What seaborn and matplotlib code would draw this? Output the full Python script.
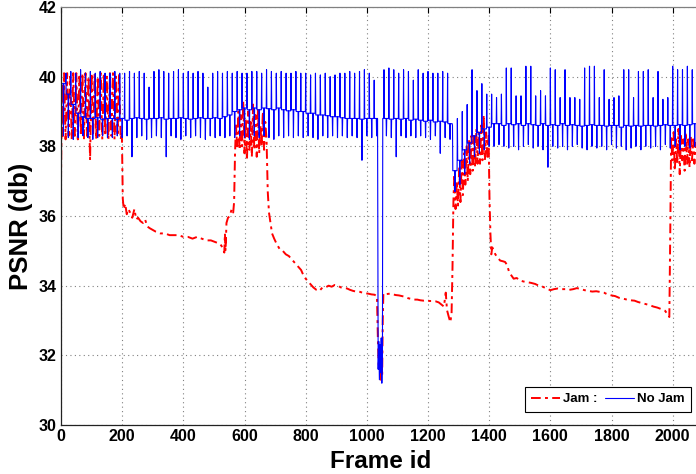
import numpy as np
import pandas as pd
import matplotlib
matplotlib.use("Agg")
import matplotlib.pyplot as plt
import seaborn as sns

# ---------------- data ----------------
# Jam (red) series: frame ids and PSNR values, segment by segment
red_frames_a = [0, 3, 6, 10, 15, 20, 25, 30, 35, 40, 45, 50, 55, 60, 65, 70, 75, 80, 85, 90, 95,
                100, 105, 110, 115, 120, 125, 130, 135, 140, 145, 150, 155, 160, 165, 170, 175,
                180, 185, 190, 195, 199]
red_psnr_a = [37.0, 39.8, 38.3, 40.1, 38.2, 40.1, 38.3, 40.0, 38.2, 40.1, 38.3, 40.1, 38.2,
              40.0, 38.3, 40.1, 38.2, 40.1, 38.3, 40.0, 37.6, 40.1, 38.3, 40.1, 38.2, 40.0, 38.3,
              40.1, 38.2, 40.1, 38.3, 40.0, 38.2, 40.1, 38.3, 40.1, 38.2, 40.0, 38.3, 40.1, 38.2,
              38.4]
red_frames_b = [202, 205, 210, 215, 220, 226, 233, 240, 246, 252, 260, 268, 275, 282, 290, 300,
                310, 325, 340, 355, 370, 385, 400, 415, 430, 445, 460, 475, 490, 505, 520, 528,
                534, 536, 538, 541, 546, 552, 558, 563, 566, 569, 572]
red_psnr_b = [36.5, 36.2, 36.35, 36.05, 36.2, 36.1, 35.95, 36.2, 35.9, 35.95, 35.85, 35.8, 35.9,
              35.7, 35.65, 35.6, 35.55, 35.5, 35.5, 35.45, 35.45, 35.45, 35.4, 35.4, 35.35, 35.4,
              35.35, 35.3, 35.3, 35.25, 35.2, 35.1, 34.95, 35.5, 35.0, 35.8, 35.95, 36.0, 36.2,
              36.1, 36.4, 37.8, 38.6]
red_frames_c = [576, 580, 584, 588, 592, 596, 600, 604, 608, 612, 616, 620, 624, 628, 632, 636,
                640, 644, 648, 652, 656, 660, 664, 668, 672]
red_psnr_c = [38.0, 39.0, 37.9, 38.9, 38.0, 39.3, 37.8, 38.8, 37.6, 39.0, 37.9, 38.7, 37.7, 39.2,
              37.9, 38.9, 37.7, 39.1, 37.8, 38.6, 38.0, 39.0, 37.9, 38.7, 38.2]
red_frames_d = [676, 680, 685, 690, 697, 705, 715, 725, 735, 745, 755, 765, 775, 785, 795, 805,
                815, 825, 835, 845, 855, 865, 875, 885, 895, 905, 915, 925, 935, 945, 955, 965,
                975, 985, 995, 1005, 1015, 1025, 1033, 1036, 1039, 1042, 1045, 1048, 1050, 1052,
                1054, 1065, 1075, 1085, 1095, 1105, 1115, 1125, 1135, 1145, 1155, 1165, 1175,
                1185, 1195, 1205, 1215, 1225, 1235, 1245, 1252, 1258, 1262, 1268, 1273, 1277,
                1280]
red_psnr_d = [36.7, 36.1, 35.8, 35.5, 35.35, 35.2, 35.05, 35.0, 34.9, 34.85, 34.75, 34.65, 34.55,
              34.45, 34.25, 34.15, 34.05, 33.95, 33.88, 33.85, 33.95, 33.95, 34.0, 33.97, 34.02,
              34.0, 33.95, 33.93, 33.92, 33.88, 33.85, 33.83, 33.83, 33.8, 33.78, 33.77, 33.75,
              33.74, 33.7, 32.5, 31.6, 32.2, 31.3, 32.0, 31.4, 33.0, 33.78, 33.76, 33.77, 33.75,
              33.73, 33.72, 33.7, 33.68, 33.64, 33.62, 33.6, 33.6, 33.58, 33.57, 33.58, 33.56,
              33.56, 33.55, 33.52, 33.45, 33.4, 33.8, 33.3, 33.1, 32.95, 33.2, 34.5]
red_frames_e = [1283, 1286, 1290, 1294, 1298, 1302, 1306, 1310, 1314, 1318, 1322, 1326, 1330,
                1334, 1338, 1342, 1346, 1350, 1354, 1358, 1362, 1366, 1370, 1374, 1378, 1382,
                1386, 1390, 1394, 1398]
red_psnr_e = [36.4, 37.2, 36.2, 37.0, 36.3, 37.4, 36.4, 37.6, 36.6, 37.8, 36.9, 38.0, 37.0, 38.2,
              37.2, 38.3, 37.3, 38.3, 37.4, 38.5, 37.5, 38.4, 37.5, 38.6, 37.6, 38.9, 37.6, 38.4,
              37.7, 38.3]
red_frames_f = [1401, 1404, 1407, 1410, 1415, 1420, 1428, 1436, 1445, 1452, 1458, 1465, 1472,
                1480, 1490, 1500, 1512, 1525, 1537, 1550, 1562, 1575, 1587, 1600, 1612, 1625,
                1637, 1650, 1662, 1675, 1687, 1700, 1712, 1725, 1737, 1750, 1762, 1775, 1787,
                1800, 1812, 1825, 1837, 1850, 1862, 1875, 1887, 1900, 1912, 1925, 1937, 1950,
                1962, 1975, 1985, 1989]
red_psnr_f = [36.5, 35.5, 34.9, 35.1, 35.0, 34.9, 34.8, 34.72, 34.7, 34.68, 34.6, 34.4, 34.3,
              34.2, 34.22, 34.15, 34.12, 34.1, 34.08, 34.05, 34.0, 33.97, 33.92, 33.87, 33.9,
              33.92, 33.9, 33.9, 33.88, 33.9, 33.93, 33.9, 33.87, 33.85, 33.83, 33.84, 33.82,
              33.8, 33.75, 33.72, 33.7, 33.65, 33.63, 33.6, 33.58, 33.57, 33.53, 33.5, 33.47,
              33.44, 33.4, 33.37, 33.33, 33.28, 33.15, 33.1]
red_frames_g = [1992, 1995, 1999, 2003, 2007, 2011, 2015, 2019, 2023, 2027, 2031, 2035, 2039,
                2043, 2047, 2051, 2055, 2059, 2063, 2067, 2071, 2075, 2080]
red_psnr_g = [35.5, 38.3, 37.6, 38.4, 37.3, 38.2, 37.5, 38.5, 37.2, 38.3, 37.6, 38.2, 37.3, 38.4,
              37.5, 38.2, 37.4, 38.3, 37.6, 38.2, 37.5, 38.1, 37.8]

# No Jam (blue) series: one value triple per 16-frame group of pictures
GOP = 16
blue_peak = [40.2, 40.1, 40.15, 40.1, 40.2, 40.1, 40.15, 40.1, 40.15, 40.1,
             40.1, 40.15, 40.1, 40.1, 40.15, 40.1, 40.15, 40.1, 39.7, 40.15,
             40.2, 40.15, 40.1, 40.15, 40.2, 40.1, 40.15, 40.1, 40.15, 40.1,
             39.7, 40.1, 40.15, 40.1, 40.15, 40.1, 40.15, 40.1, 40.1, 40.15,
             40.15, 40.1, 40.2, 40.15, 40.1, 40.15, 40.1, 40.1, 40.15, 40.1,
             40.1, 40.05, 40.1, 40.05, 40.1, 40.0, 40.05, 40.1, 40.1, 40.15,
             40.1, 40.15, 40.2, 40.1, 39.9, 40.0, 40.2, 40.25, 40.2, 40.1,
             40.2, 40.15, 39.9, 40.2, 40.1, 40.15, 40.1, 40.1, 40.15, 40.1,
             38.6, 38.8, 39.0, 39.2, 40.2, 39.6, 39.8, 39.5, 39.5, 39.4,
             39.5, 40.25, 40.25, 39.45, 39.45, 40.3, 40.3, 39.45, 39.6, 39.45,
             40.25, 40.2, 39.4, 40.2, 39.4, 39.4, 39.35, 40.25, 40.3, 40.3,
             39.4, 40.2, 39.35, 39.4, 39.45, 40.2, 40.2, 39.4, 40.15, 40.15,
             40.2, 39.4, 40.15, 39.35, 39.4, 40.3, 40.2, 40.2, 40.3, 40.2]
blue_trough = [38.3, 38.25, 38.2, 38.25, 38.3, 38.25, 38.2, 38.25, 38.3, 38.25,
               38.25, 38.3, 38.25, 38.3, 37.7, 38.25, 38.3, 38.2, 38.25, 38.3,
               38.25, 37.7, 38.3, 38.25, 38.2, 38.3, 38.25, 38.3, 38.25, 38.2,
               38.3, 38.25, 38.3, 38.25, 38.3, 38.25, 38.3, 38.25, 38.2, 38.3,
               38.25, 38.3, 38.25, 38.2, 38.3, 38.25, 38.3, 38.25, 38.3, 38.25,
               38.3, 38.25, 38.2, 38.3, 38.25, 38.3, 38.25, 38.3, 38.25, 38.3,
               38.25, 37.6, 38.3, 38.25, 38.3, 38.25, 38.3, 38.25, 37.7, 38.3,
               38.25, 38.3, 38.25, 38.3, 38.25, 38.2, 38.3, 37.8, 38.25, 38.2,
               36.7, 36.9, 37.2, 37.5, 37.7, 37.8, 37.9, 38.0, 38.0, 38.05,
               38.0, 37.95, 38.0, 37.9, 38.0, 38.05, 37.95, 38.0, 37.9, 37.4,
               38.0, 37.95, 38.0, 37.9, 38.0, 38.05, 37.95, 37.9, 38.0, 37.95,
               38.0, 37.9, 38.05, 37.95, 38.0, 37.9, 37.95, 38.0, 37.9, 38.0,
               37.95, 38.0, 37.9, 38.05, 37.95, 38.0, 37.9, 38.0, 37.95, 38.0]
blue_base = [39.8, 39.5, 39.2, 38.95, 38.85, 38.8, 38.8, 38.82, 38.78, 38.8,
             38.8, 38.78, 38.8, 38.75, 38.8, 38.82, 38.8, 38.78, 38.8, 38.8,
             38.82, 38.78, 38.8, 38.8, 38.82, 38.8, 38.78, 38.8, 38.82, 38.8,
             38.8, 38.82, 38.8, 38.85, 38.9, 39.0, 39.05, 39.1, 39.05, 39.1,
             39.05, 39.1, 39.08, 39.05, 39.1, 39.05, 39.02, 39.05, 39.0, 39.0,
             38.95, 38.95, 38.9, 38.9, 38.88, 38.85, 38.85, 38.82, 38.8, 38.8,
             38.8, 38.78, 38.8, 38.8, 38.8, 38.8, 38.8, 38.78, 38.8, 38.78,
             38.8, 38.75, 38.78, 38.75, 38.72, 38.75, 38.7, 38.72, 38.7, 38.65,
             37.3, 37.6, 37.9, 38.1, 38.3, 38.4, 38.5, 38.55, 38.65, 38.65,
             38.6, 38.65, 38.62, 38.65, 38.6, 38.65, 38.62, 38.6, 38.65, 38.6,
             38.62, 38.6, 38.65, 38.6, 38.62, 38.6, 38.58, 38.6, 38.62, 38.6,
             38.6, 38.58, 38.6, 38.6, 38.55, 38.6, 38.58, 38.6, 38.58, 38.6,
             38.6, 38.58, 38.6, 38.62, 38.6, 38.6, 38.62, 38.6, 38.62, 38.65]
# deep drop of the No Jam curve around frame 1040
blue_dip_frames = [1035, 1037, 1039, 1041, 1043, 1045, 1047, 1049, 1051, 1052]
blue_dip_psnr = [38.8, 31.6, 32.4, 31.3, 32.3, 31.5, 32.5, 31.2, 32.0, 38.8]

x_ticks = [0, 200, 400, 600, 800, 1000, 1200, 1400, 1600, 1800, 2000]
y_ticks = [30, 32, 34, 36, 38, 40, 42]

# ---------------- build tables ----------------
red_frames = (red_frames_a + red_frames_b + red_frames_c + red_frames_d + red_frames_e
              + red_frames_f + red_frames_g)
red_psnr = (red_psnr_a + red_psnr_b + red_psnr_c + red_psnr_d + red_psnr_e + red_psnr_f
            + red_psnr_g)
assert len(red_frames) == len(red_psnr)
df_red = pd.DataFrame({"frame": red_frames, "psnr": red_psnr})

bf, bv = [], []
for i in range(len(blue_peak)):
    f = i * GOP
    for off, val in ((0, blue_peak[i]), (1, blue_base[i]), (7, blue_base[i]),
                     (8, blue_trough[i]), (9, blue_base[i]), (15, blue_base[i])):
        fr = f + off
        if blue_dip_frames[0] <= fr <= blue_dip_frames[-1]:
            continue
        bf.append(fr)
        bv.append(val)
bf += blue_dip_frames
bv += blue_dip_psnr
df_blue = pd.DataFrame({"frame": bf, "psnr": bv}).sort_values("frame")

# ---------------- plot ----------------
sns.set_style("white")
plt.rcParams["font.family"] = ["Liberation Sans", "DejaVu Sans"]
plt.rcParams["text.color"] = "black"
plt.rcParams["axes.labelcolor"] = "black"
plt.rcParams["xtick.color"] = "black"
plt.rcParams["ytick.color"] = "black"

fig = plt.figure(figsize=(6.96, 4.74), dpi=100)
W, H = 696.0, 474.0
x0, x1, y0, y1 = 61.0, 700.0, 7.0, 425.0
ax = fig.add_axes([x0 / W, 1 - y1 / H, (x1 - x0) / W, (y1 - y0) / H])

sns.lineplot(data=df_red, x="frame", y="psnr", ax=ax, color="#ff0000", lw=1.4,
             linestyle=(0, (5, 2.2, 1.5, 2.2)), label="Jam :", estimator=None, sort=False)
sns.lineplot(data=df_blue, x="frame", y="psnr", ax=ax, color="#0000ff", lw=0.8,
             label="No Jam", estimator=None, sort=False)

ax.set_xlim(0, (x1 - x0) / ((672.7 - 61.0) / 2000.0))
ax.set_ylim(30, 42)
ax.set_xticks(x_ticks)
ax.set_yticks(y_ticks)
ax.set_xticklabels([str(t) for t in x_ticks], fontsize=11.5, fontweight="bold")
ax.set_yticklabels([str(t) for t in y_ticks], fontsize=11.5, fontweight="bold")
ax.tick_params(direction="in", length=4, width=0.8, top=True, right=False, pad=3,
               colors="black")
ax.grid(True, linestyle=(0, (1, 3)), color="#808080", lw=0.8)
ax.set_axisbelow(True)

for side in ("left", "bottom"):
    ax.spines[side].set_color("#222222")
    ax.spines[side].set_linewidth(0.9)
ax.spines["top"].set_color("#808080")
ax.spines["top"].set_linewidth(0.9)
ax.spines["right"].set_visible(False)

ax.set_xlabel("Frame id", fontsize=17.5, fontweight="bold", labelpad=4, color="black")
ax.set_ylabel("PSNR (db)", fontsize=18.5, fontweight="bold", color="black")
ax.yaxis.set_label_coords((33 - x0) / (x1 - x0), (y1 - 226) / (y1 - y0))

leg = ax.legend(loc="lower right",
                bbox_to_anchor=((691 - x0) / (x1 - x0), (y1 - 412) / (y1 - y0)),
                borderaxespad=0, ncol=2, prop={"weight": "bold", "size": 9.5},
                fancybox=False, framealpha=1, edgecolor="black",
                handlelength=2.2, columnspacing=0.6, handletextpad=0.2, borderpad=0.5)
leg.get_frame().set_linewidth(0.8)
for t in leg.get_texts():
    t.set_color("black")

fig.savefig("out.png", dpi=100)
